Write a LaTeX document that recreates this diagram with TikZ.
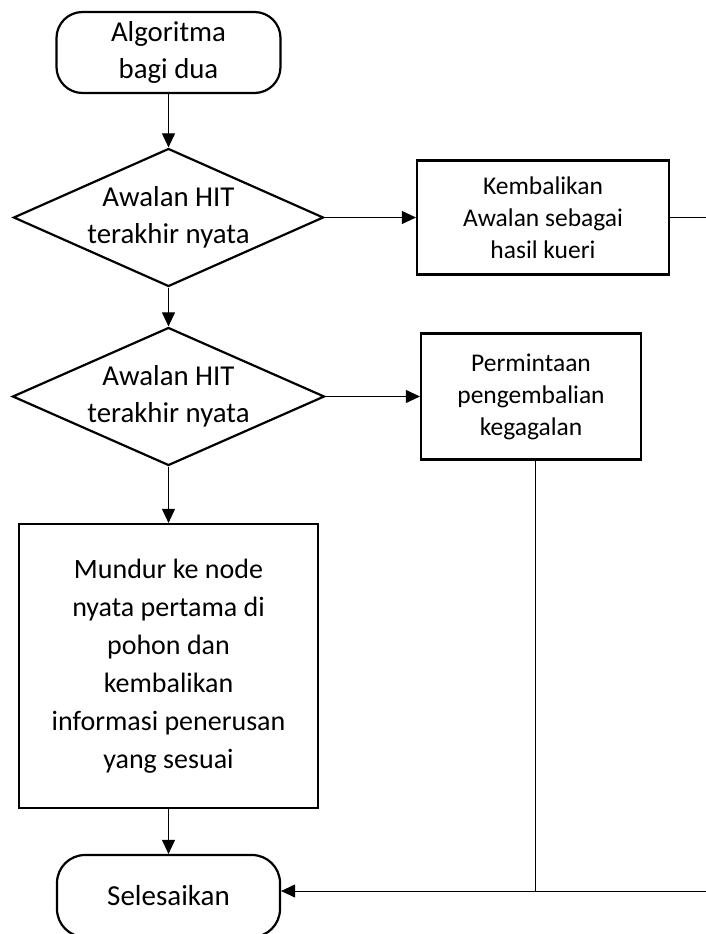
\documentclass[tikz,border=0pt]{standalone}
\usepackage{fontspec}
\setmainfont{Carlito}
\usetikzlibrary{shapes.geometric,arrows.meta}
\begin{document}
\begin{tikzpicture}[x=1pt,y=-1pt,
  shp/.style={draw,line width=2.2pt,align=center,inner sep=0pt,text=black},
  term/.style={shp,rounded corners=26pt},
  proc/.style={shp},
  dec/.style={shp,diamond,aspect=2.24,inner sep=-8pt},
  arr/.style={line width=1pt,-{Triangle[length=14pt,width=13pt]}},
  ln/.style={line width=1pt},
  bigtxt/.style={font=\fontsize{28.8}{36.5}\selectfont},
  smalltxt/.style={font=\fontsize{25.5}{32}\selectfont}]
\path[use as bounding box,clip] (0,0) rectangle (706,934);
\node[term,bigtxt,minimum width=224pt,minimum height=81pt] (start) at (168.5,52.5) {Algoritma\\bagi dua};
\node[dec,bigtxt,minimum width=310pt,minimum height=138pt] (d1) at (168.5,217.5) {Awalan HIT\\terakhir nyata};
\node[proc,smalltxt,minimum width=252pt,minimum height=114pt] (b1) at (543,217.5) {Kembalikan\\Awalan sebagai\\hasil kueri};
\node[dec,bigtxt,minimum width=312pt,minimum height=138pt] (d2) at (168.5,396.5) {Awalan HIT\\terakhir nyata};
\node[proc,smalltxt,minimum width=220pt,minimum height=126pt] (b2) at (531,396.5) {Permintaan\\pengembalian\\kegagalan};
\node[proc,font=\fontsize{28}{38}\selectfont,minimum width=299pt,minimum height=284pt] (b3) at (168.5,666) {Mundur ke node\\nyata pertama di\\pohon dan\\kembalikan\\informasi penerusan\\yang sesuai};
\node[term,font=\fontsize{29}{36}\selectfont,rounded corners=28pt,minimum width=223pt,minimum height=82pt] (end) at (168.5,896) {Selesaikan};
\coordinate (r1) at (720,217.5);
\coordinate (j) at (535,891);
\coordinate (r2) at (720,891);
\draw[arr] (start) -- (d1);
\draw[arr] (d1) -- (d2);
\draw[arr] (d2) -- (b3);
\draw[arr] (b3) -- (end);
\draw[arr] (d1.east) -- (b1.west);
\draw[arr] (d2.east) -- (b2.west);
\draw[ln] (b1.east) -- (r1);
\draw[ln] (b2.south -| j) -- (j);
\draw[arr] (r2) -- (end.east |- r2);
\end{tikzpicture}
\end{document}
